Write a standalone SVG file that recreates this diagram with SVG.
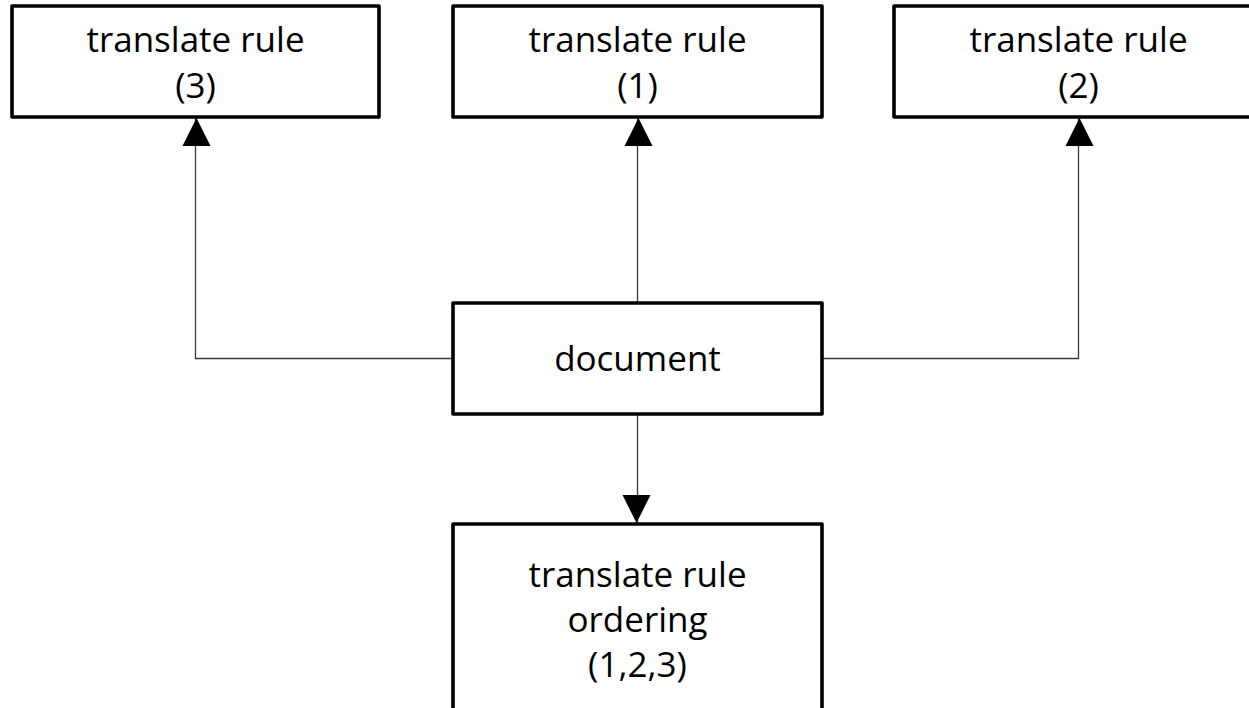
<svg xmlns="http://www.w3.org/2000/svg" width="1249" height="708" viewBox="0 0 1249 708">
  <style>
    .box { fill: #ffffff; stroke: #000000; stroke-width: 3.6; stroke-linejoin: round; }
    .label { font-family: "Open Sans", "Noto Sans", "Liberation Sans", sans-serif; font-size: 35px; fill: #000000; text-anchor: middle; }
    .link { fill: none; stroke: #3a3a3a; stroke-width: 1.3; }
  </style>
  <defs>
    <marker id="arrow" viewBox="0 0 28 30" refX="28" refY="14" markerWidth="28" markerHeight="30" markerUnits="userSpaceOnUse" orient="auto">
      <path d="M0,0 L28,14 L0,28 Z" fill="#000000" transform="translate(0,1)"/>
    </marker>
  </defs>
  <rect width="1249" height="708" fill="#ffffff"/>

  <g id="connectors">
    <path class="link" d="M453,358.5 H195.5 V118" marker-end="url(#arrow)"/>
    <path class="link" d="M637.5,303 V118" marker-end="url(#arrow)"/>
    <path class="link" d="M822,358.5 H1078.5 V118" marker-end="url(#arrow)"/>
    <path class="link" d="M637.5,414 V523" marker-end="url(#arrow)"/>
  </g>

  <g id="rule3">
    <rect class="box" x="12" y="6" width="367" height="111"/>
    <text class="label" x="195.5" y="52">translate rule</text>
    <text class="label" x="195.5" y="98">(3)</text>
  </g>

  <g id="rule1">
    <rect class="box" x="453" y="6" width="369" height="111"/>
    <text class="label" x="637.5" y="52">translate rule</text>
    <text class="label" x="637.5" y="98">(1)</text>
  </g>

  <g id="rule2">
    <rect class="box" x="894" y="6" width="369" height="111"/>
    <text class="label" x="1078.5" y="52">translate rule</text>
    <text class="label" x="1078.5" y="98">(2)</text>
  </g>

  <g id="document">
    <rect class="box" x="453" y="303" width="369" height="111"/>
    <text class="label" x="637.5" y="371">document</text>
  </g>

  <g id="ordering">
    <rect class="box" x="453" y="524" width="369" height="200"/>
    <text class="label" x="637.5" y="587">translate rule</text>
    <text class="label" x="637.5" y="632">ordering</text>
    <text class="label" x="637.5" y="677">(1,2,3)</text>
  </g>
</svg>
